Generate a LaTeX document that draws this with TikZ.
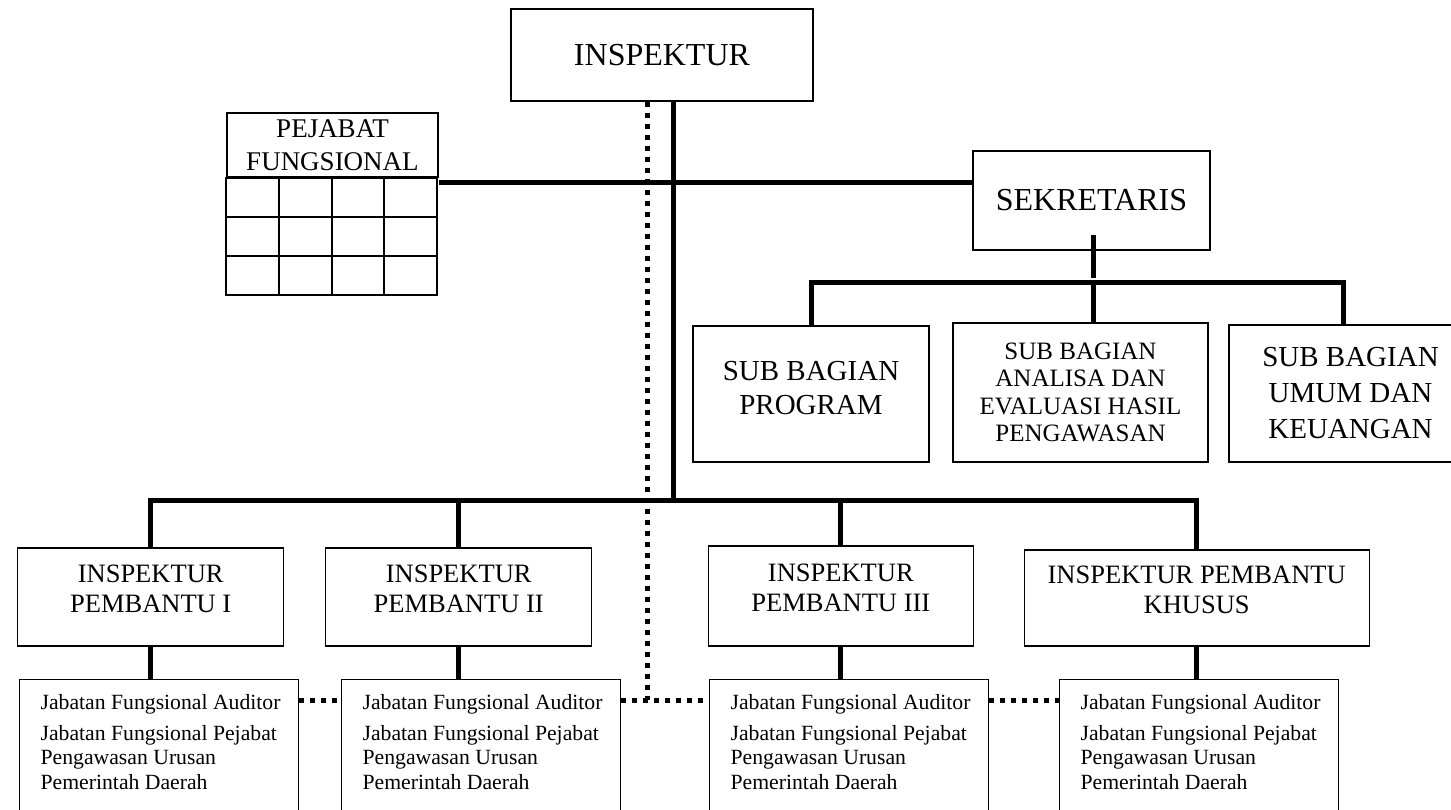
\documentclass[tikz,border=0pt]{standalone}
\usepackage{fontspec}
\setmainfont{Liberation Serif}

\newcommand{\jflist}{\begin{minipage}[t][140pt][t]{237pt}\raggedright
\mbox{Jabatan Fungsional Auditor}\\[6pt]
\mbox{Jabatan Fungsional Pejabat}\\
\mbox{Pengawasan Urusan}\\
\mbox{Pemerintah Daerah}\end{minipage}}

\begin{document}
\begin{tikzpicture}[x=1pt,y=-1pt]

    \tikzstyle{box} = [draw, fill=white, rectangle, line width=1.3pt, align=center, inner sep=0pt]
    \tikzstyle{topbox} = [box, font=\fontsize{32}{36}\selectfont]
    \tikzstyle{subbox} = [box, font=\fontsize{29}{34}\selectfont]
    \tikzstyle{ipbox} = [box, font=\fontsize{26.5}{30}\selectfont, minimum height=98pt, execute at end node={\rule[-16pt]{0pt}{0pt}}]
    \tikzstyle{jfbox} = [draw, rectangle, line width=1.3pt, anchor=north west, inner xsep=21pt, inner ysep=15pt, font=\fontsize{21.7}{24.5}\selectfont]
    \tikzstyle{cell} = [draw, line width=1.8pt]
    \tikzstyle{link} = [line width=5pt]
    \tikzstyle{dots} = [line width=5pt, dash pattern=on 5pt off 6pt]

    \clip (0,0) rectangle (1451,810);

    \node[topbox, minimum width=302pt, minimum height=92pt] (insp) at (662,55) {INSPEKTUR};
    \node[box, cell, font=\fontsize{27}{33}\selectfont, minimum width=211pt, minimum height=64pt] (pej) at (332.5,145) {PEJABAT\\FUNGSIONAL};
    \node[topbox, minimum width=237pt, minimum height=99pt] (sekr) at (1091.5,200.5) {SEKRETARIS};

    \node[subbox, minimum width=236pt, minimum height=136pt, execute at end node={\rule[-12pt]{0pt}{0pt}}] (sb1) at (811,394) {SUB BAGIAN\\PROGRAM};
    \node[box, font=\fontsize{25}{27.5}\selectfont, minimum width=255pt, minimum height=139pt] (sb2) at (1080.5,392.5) {SUB BAGIAN\\ANALISA DAN\\EVALUASI HASIL\\PENGAWASAN};
    \node[subbox, font=\fontsize{29}{36}\selectfont, minimum width=243pt, minimum height=137pt] (sb3) at (1350.5,393.5) {SUB BAGIAN\\UMUM DAN\\KEUANGAN};

    \node[ipbox, minimum width=266pt] (ip1) at (150.7,597) {INSPEKTUR\\PEMBANTU I};
    \node[ipbox, minimum width=266pt] (ip2) at (458.7,597) {INSPEKTUR\\PEMBANTU II};
    \node[ipbox, minimum width=265pt, minimum height=100pt] (ip3) at (840.8,596) {INSPEKTUR\\PEMBANTU III};
    \node[ipbox, minimum width=345pt, minimum height=96pt] (ip4) at (1196.7,598) {INSPEKTUR PEMBANTU\\KHUSUS};

    \node[jfbox] (jf1) at (19,679) {\jflist};
    \node[jfbox] (jf2) at (341,679) {\jflist};
    \node[jfbox] (jf3) at (709,679) {\jflist};
    \node[jfbox] (jf4) at (1059,679) {\jflist};

    % grid under pejabat fungsional
    \draw[cell] (pej.south west) rectangle ++(211,117);
    \foreach \x in {1,2,3} \draw[cell] ([xshift=\x*52.75pt]pej.south west) -- ++(0,117);
    \foreach \y in {1,2} \draw[cell] ([yshift=-\y*39pt]pej.south west) -- ++(211,0);

    \coordinate (side) at (673,183);
    \coordinate (bus) at (673,500);
    \coordinate (subbus) at (1093,283);
    \coordinate (dotrow) at (0,700);

    \draw[link] (insp.south -| bus) -- (bus);
    \draw[link] (pej.east |- side) -- (sekr.west |- side);

    \draw[link] ([yshift=16pt]sekr.south -| subbus) -- ([yshift=-27pt]sekr.south -| subbus);
    \draw[link] (sb1.north) -- (sb1.north |- subbus) -- ([xshift=-7pt]sb3.north |- subbus) -- ([xshift=-7pt]sb3.north);
    \draw[link] (subbus) -- (subbus |- sb2.north);

    \draw[link] (ip1.north) -- (ip1.north |- bus) -- (ip4.north |- bus) -- (ip4.north);
    \draw[link] (ip2.north) -- (ip2.north |- bus);
    \draw[link] (ip3.north) -- (ip3.north |- bus);
    \foreach \i in {1,...,4} \draw[link] (ip\i.south) -- (ip\i.south |- jf\i.north);

    \draw[dots] ([xshift=-15pt]insp.south) -- ([xshift=-15pt]insp.south |- dotrow);
    \draw[dots] (jf1.north east |- dotrow) -- (jf2.north west |- dotrow);
    \draw[dots] (jf2.north east |- dotrow) -- (jf3.north west |- dotrow);
    \draw[dots] (jf3.north east |- dotrow) -- (jf4.north west |- dotrow);

\end{tikzpicture}
\end{document}
